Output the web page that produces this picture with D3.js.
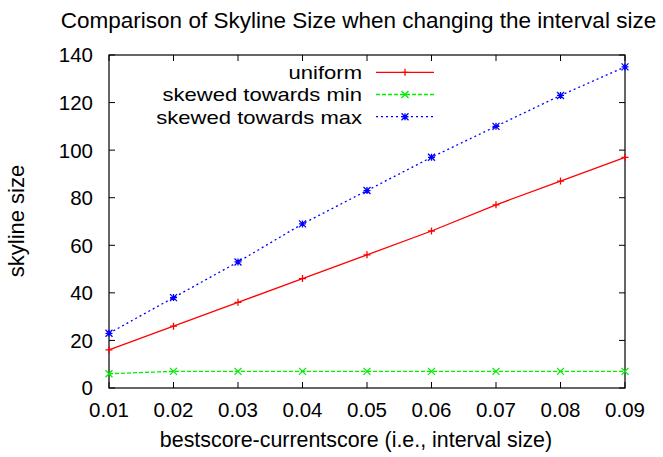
<!DOCTYPE html>
<html><head><meta charset="utf-8">
<script src="https://cdn.jsdelivr.net/npm/d3@7"></script>
<style>body{margin:0;background:#fff}text{font-family:"Liberation Sans",Arial,sans-serif}</style>
</head><body><svg id="c" width="663" height="457"></svg>
<script>
const xValues = [0.01,0.02,0.03,0.04,0.05,0.06,0.07,0.08,0.09];
const uniform = [16,26,36,46,56,66,77,87,97];
const skewedMin = [6,7,7,7,7,7,7,7,7];
const skewedMax = [23,38,53,69,83,97,110,123,135];
const yTicks = [0,20,40,60,80,100,120,140];
const seriesNames = ["uniform","skewed towards min","skewed towards max"];

const svg = d3.select("#c");
const L=109,R=625,T=55,B=388;
const x = d3.scaleLinear().domain([0.01,0.09]).range([L,R]);
const y = d3.scaleLinear().domain([0,140]).range([B,T]);

const g = svg.append("g");
yTicks.forEach(v=>{
  g.append("line").attr("x1",L).attr("x2",L+6).attr("y1",y(v)).attr("y2",y(v)).attr("stroke","#000");
  g.append("line").attr("x1",R).attr("x2",R-6).attr("y1",y(v)).attr("y2",y(v)).attr("stroke","#000");
  g.append("text").attr("x",L-16).attr("y",y(v)).attr("dy","0.36em").attr("text-anchor","end").attr("font-size",20.5).text(v);
});
xValues.forEach(v=>{
  g.append("line").attr("x1",x(v)).attr("x2",x(v)).attr("y1",B).attr("y2",B-6).attr("stroke","#000");
  g.append("line").attr("x1",x(v)).attr("x2",x(v)).attr("y1",T).attr("y2",T+6).attr("stroke","#000");
  g.append("text").attr("x",x(v)).attr("y",B+29).attr("text-anchor","middle").attr("font-size",20.5).text(d3.format(".2f")(v));
});
svg.append("rect").attr("x",L).attr("y",T).attr("width",R-L).attr("height",B-T).attr("fill","none").attr("stroke","#000").attr("stroke-width",1.2);

const series = [
  {name:seriesNames[0], data:uniform, color:"#ff0000", dash:null, marker:"plus"},
  {name:seriesNames[1], data:skewedMin, color:"#00ee00", dash:"4,2", marker:"cross"},
  {name:seriesNames[2], data:skewedMax, color:"#0000ff", dash:"2,3", marker:"star"}
];
function marker(sel, type, cx, cy, color){
  const s=3.5;
  const p = d3.path();
  if(type==="plus"||type==="star"){p.moveTo(cx-s,cy);p.lineTo(cx+s,cy);p.moveTo(cx,cy-s);p.lineTo(cx,cy+s);}
  if(type==="cross"||type==="star"){p.moveTo(cx-s,cy-s);p.lineTo(cx+s,cy+s);p.moveTo(cx-s,cy+s);p.lineTo(cx+s,cy-s);}
  sel.append("path").attr("d",p.toString()).attr("stroke",color).attr("stroke-width",1.3).attr("fill","none");
}
const line = d3.line().x((d,i)=>x(xValues[i])).y(d=>y(d));
series.forEach((s,k)=>{
  svg.append("path").datum(s.data).attr("d",line).attr("fill","none").attr("stroke",s.color).attr("stroke-width",1.3).attr("stroke-dasharray",s.dash);
  s.data.forEach((d,i)=>marker(svg,s.marker,x(xValues[i]),y(d),s.color));
  const ly = 72.3 + k*22.2;
  svg.append("text").attr("transform",`translate(362,${ly}) scale(1.16,1)`).attr("dy","0.36em").attr("text-anchor","end").attr("font-size",19).text(s.name);
  svg.append("line").attr("x1",376).attr("x2",434).attr("y1",ly).attr("y2",ly).attr("stroke",s.color).attr("stroke-width",1.3).attr("stroke-dasharray",s.dash);
  marker(svg,s.marker,405,ly,s.color);
});

svg.append("text").attr("x",358.5).attr("y",28).attr("text-anchor","middle").attr("font-size",22.5).text("Comparison of Skyline Size when changing the interval size");
svg.append("text").attr("x",356).attr("y",447).attr("text-anchor","middle").attr("font-size",21.4).text("bestscore-currentscore (i.e., interval size)");
svg.append("text").attr("transform","translate(24,221) rotate(-90)").attr("text-anchor","middle").attr("font-size",22).text("skyline size");
</script></body></html>
